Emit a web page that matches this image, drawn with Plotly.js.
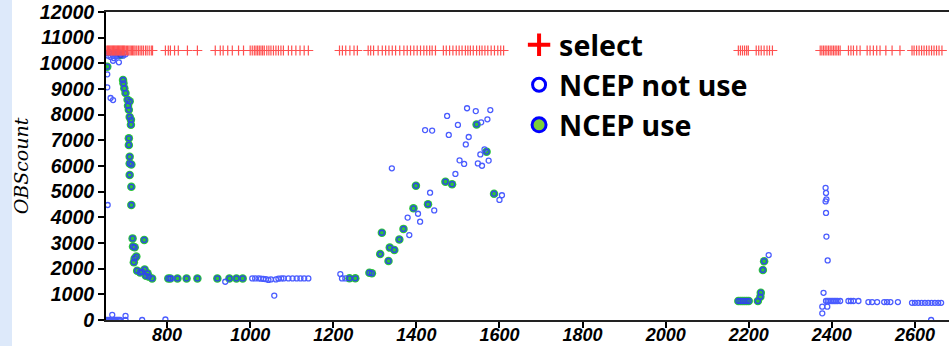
<!DOCTYPE html>
<html>
<head>
<meta charset="utf-8">
<script src="https://cdn.plot.ly/plotly-3.0.1.min.js"></script>
<style>
html,body{margin:0;padding:0;background:#fff;}
#chart{width:949px;height:346px;}
</style>
</head>
<body>
<div id="chart"></div>
<script>
// ---- data ----
const selectX = [655,657,659,661,663,665,667,669,671,673,675,677,679,681,683,685,687,689,691,693,695,697,699,702,705,708,711,714,717,720,723,727,731,735,739,743,748,752,757,762,765,
  796,803,808,818,827,849,873,916,928,935,946,957,972,984,1000,1005,1010,1014,1018,1022,1026,1030,1034,1040,1045,1050,1056,1062,1068,1074,1080,1092,1100,1110,1120,1130,1140,
  1215,1222,1230,1240,1250,1258,1284,1290,1297,1308,1318,1326,1334,1342,1350,1360,1370,1378,1386,1394,1402,1410,1418,1425,1432,1438,1446,
  1465,1472,1480,1488,1496,1503,1510,1518,1524,1530,1537,1545,1552,1558,1565,1572,1580,1588,1596,1603,1610,
  2175,2180,2185,2190,2195,2199,2218,2224,2230,2237,2244,2250,2257,
  2372,2376,2380,2384,2388,2392,2396,2400,2404,2408,2412,2416,2420,2440,2446,2452,2460,2468,2485,2492,2500,2508,2516,2530,2545,2564,
  2593,2598,2604,2610,2616,2622,2628,2634,2640,2646,2652,2658,2665];
const selectY = [10500,10500,10500,10500,10500,10500,10500,10500,10500,10500,10500,10500,10500,10500,10500,10500,10500,10500,10500,10500,10500,10500,10500,10500,10500,10500,10500,10500,10500,10500,10500,10500,10500,10500,10500,10500,10500,10500,10500,10500,10500,
  10500,10500,10500,10500,10500,10500,10500,10500,10500,10500,10500,10500,10500,10500,10500,10500,10500,10500,10500,10500,10500,10500,10500,10500,10500,10500,10500,10500,10500,10500,10500,10500,10500,10500,10500,10500,10500,
  10500,10500,10500,10500,10500,10500,10500,10500,10500,10500,10500,10500,10500,10500,10500,10500,10500,10500,10500,10500,10500,10500,10500,10500,10500,10500,10500,
  10500,10500,10500,10500,10500,10500,10500,10500,10500,10500,10500,10500,10500,10500,10500,10500,10500,10500,10500,10500,10500,
  10500,10500,10500,10500,10500,10500,10500,10500,10500,10500,10500,10500,10500,
  10500,10500,10500,10500,10500,10500,10500,10500,10500,10500,10500,10500,10500,10500,10500,10500,10500,10500,10500,10500,10500,10500,10500,10500,10500,10500,
  10500,10500,10500,10500,10500,10500,10500,10500,10500,10500,10500,10500,10500];

const notUseX = [655,658,661,664,667,670,673,676,679,682,685,688,691,694,697,700,660,672,680,
  670,684,656,656,664,670,657,
  654,657,660,663,666,669,672,675,678,681,684,687,668,700,700,740,796,
  810,940,1005,1012,1020,1026,1032,1038,1044,1050,1058,1062,1068,1075,1081,1092,1102,1112,1121,1130,1140,1217,1221,1229,
  1341,1379,1383,1404,1409,1421,1438,1433,1443,1474,1478,1494,1500,1504,1515,1519,1522,1526,1543,1548,1558,1554,1556,1564,1571,1574,1578,1600,1606,
  2248,2385,2386,2387,2385,2386,2387,2390,2380,2377,2377,2389,
  2386,2390,2394,2398,2402,2406,2410,2414,2420,2440,2446,2452,2464,2488,2497,2509,2526,2533,2541,2559,
  2593,2600,2608,2616,2624,2632,2640,2648,2656,2663,2639];
const notUseY = [10400,10300,10420,10250,10380,10300,10420,10350,10280,10400,10320,10420,10360,10300,10400,10350,10450,10200,10450,
  10100,10040,9570,9065,8650,8570,4480,
  0,0,0,0,0,0,0,0,0,0,0,0,200,160,0,0,20,
  1620,1490,1620,1620,1620,1610,1600,1590,1560,1580,950,1580,1610,1620,1620,1620,1620,1620,1620,1620,1620,1790,1620,1620,
  5910,3990,3310,4140,3830,7400,7380,4960,4270,7950,7210,5690,7600,6220,6080,6840,8250,7130,8140,6100,6010,6450,7700,6650,7820,6210,8180,4680,4860,
  2530,5150,4950,4700,4620,4170,3250,2320,1060,520,260,520,
  740,740,740,740,740,740,740,740,740,740,740,740,740,700,700,700,700,700,700,700,
  670,670,670,670,670,670,670,670,670,670,0];

const useX = [656,688,694,695,697,700,705,710,706,708,710,713,713,708,708,710,710,714,710,714,714,717,745,718,722,726,722,720,728,735,740,746,753,749,756,764,
  803,808,825,847,873,921,950,967,982,
  1239,1253,1287,1293,1313,1317,1333,1336,1347,1359,1369,1393,1399,1428,1470,1486,1545,1569,1587,
  2175,2180,2185,2190,2195,2200,2222,2228,2229,2234,2237];
const useY = [9870,10325,9350,9220,9030,8840,8580,8520,8350,8190,7910,7800,7610,7080,6820,6360,6100,6060,5650,5190,4480,3180,3120,2860,2830,2470,2400,2250,1920,1850,1880,1970,1820,1720,1690,1620,
  1620,1620,1620,1620,1620,1620,1620,1620,1620,
  1625,1625,1840,1820,2570,3400,2300,2820,2730,3140,3550,4350,5230,4510,5390,5290,7620,6560,4920,
  740,740,740,740,740,740,740,910,1064,1950,2290];

const legendNames = ['select', 'NCEP not use', 'NCEP use'];
const xTicks = [800,1000,1200,1400,1600,1800,2000,2200,2400,2600];
const yTicks = [0,1000,2000,3000,4000,5000,6000,7000,8000,9000,10000,11000,12000];

// ---- traces ----
const traces = [
  {x: useX, y: useY, type:'scatter', mode:'markers', showlegend:false, hoverinfo:'skip',
   marker:{symbol:'circle', size:8.5, color:'#2cc43a', line:{width:0}}},
  {x: notUseX, y: notUseY, type:'scatter', mode:'markers', showlegend:false,
   marker:{symbol:'circle-open', size:5, color:'#4a5cff', line:{width:1.3}}},
  {x: useX, y: useY, type:'scatter', mode:'markers', showlegend:false, hoverinfo:'skip',
   marker:{symbol:'circle-open', size:5, color:'#2f46e8', line:{width:1.3}}},
  {x: selectX, y: selectY, type:'scatter', mode:'markers', showlegend:false,
   marker:{symbol:'cross-thin', size:7, color:'#ff5050', line:{width:1.2, color:'#ff5050'}}},
  // legend-only entries
  {x:[null], y:[null], type:'scatter', mode:'markers', name: legendNames[0], legendgroup:'a',
   marker:{symbol:'cross-thin', size:16, color:'#ff0000', line:{width:4, color:'#ff0000'}}},
  {x:[null], y:[null], type:'scatter', mode:'markers', name: legendNames[1], legendgroup:'b',
   marker:{symbol:'circle-open', size:13, color:'#0000ff', line:{width:3}}},
  {x:[null], y:[null], type:'scatter', mode:'markers', name: legendNames[2], legendgroup:'c',
   marker:{symbol:'circle', size:14, color:'#7ccf3a', line:{width:3, color:'#0000ff'}}}
];

const tickFont = {family:'Liberation Sans, Arial, sans-serif', size:19.5, weight:'bold', style:'italic', color:'#000'};
const xTickFont = {family:'Liberation Sans, Arial, sans-serif', size:18, weight:'bold', style:'italic', color:'#000'};

const layout = {
  width:949, height:346,
  margin:{l:106, r:0, t:12, b:26, pad:0},
  paper_bgcolor:'#fff', plot_bgcolor:'#fff',
  showlegend:true,
  legend:{x:0.49, y:0.975, xanchor:'left', yanchor:'top', bgcolor:'rgba(0,0,0,0)',
          font:{family:'Noto Sans, sans-serif', size:28.5, weight:'bold', color:'#000'},
          tracegroupgap:0, itemsizing:'trace'},
  xaxis:{range:[653,2682], tickmode:'array', tickvals:xTicks, ticktext:xTicks.map(String),
         ticks:'outside', ticklen:6, tickwidth:2, tickcolor:'#000',
         showline:true, linecolor:'#222', linewidth:2, mirror:true,
         showgrid:false, zeroline:false, tickfont:xTickFont, ticklabelstandoff:-9},
  yaxis:{range:[0,12000], tickmode:'array', tickvals:yTicks, ticktext:yTicks.map(String),
         ticks:'outside', ticklen:6, tickwidth:2, tickcolor:'#000',
         showline:true, linecolor:'#000', linewidth:2,
         showgrid:false, zeroline:false, tickfont:tickFont,
         title:{text:'OBScount', standoff:6,
                font:{family:'DejaVu Serif, serif', size:19, style:'italic', color:'#000'}}},
  shapes:[{type:'rect', xref:'paper', yref:'paper', x0:-106/843, x1:-94/843, y0:-0.1, y1:1.06,
           fillcolor:'#dde9fa', line:{width:0}, layer:'below'}]
};

Plotly.newPlot('chart', traces, layout, {displayModeBar:false, staticPlot:true});
</script>
</body>
</html>
